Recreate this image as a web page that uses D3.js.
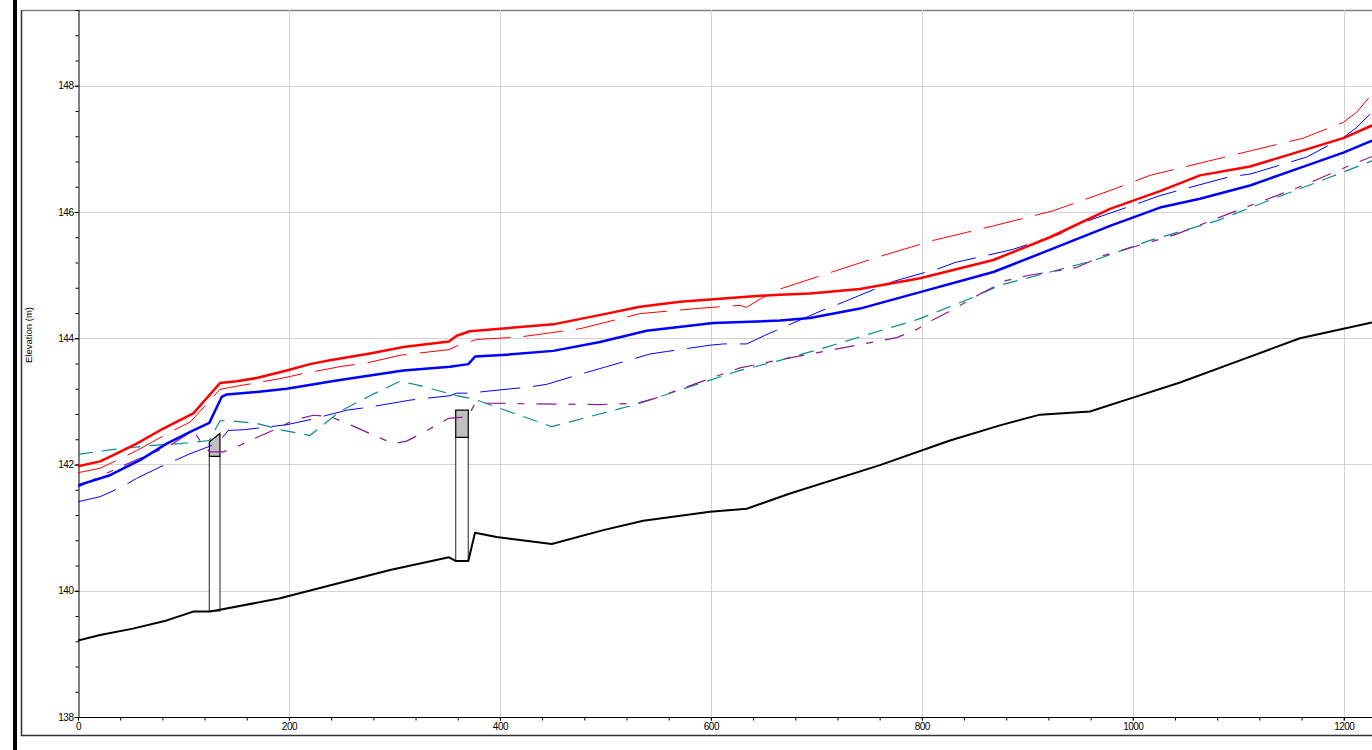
<!DOCTYPE html>
<html>
<head>
<meta charset="utf-8">
<script src="https://cdn.jsdelivr.net/npm/d3@7"></script>
<style>
  html, body { margin: 0; padding: 0; background: #fff; }
  svg { display: block; font-family: "Liberation Sans", Arial, sans-serif; }
</style>
</head>
<body>
<svg id="chart" width="1372" height="750"></svg>
<script>
// Profile data: [station (m), elevation (m)]
const ground = [
  [0, 139.21], [20.9, 139.30], [52.1, 139.40], [84.1, 139.53], [109.3, 139.67], [125.1, 139.67],
  [134.6, 139.70], [191.5, 139.88], [295.8, 140.33], [351.7, 140.53], [358.4, 140.47], [370.0, 140.47],
  [376.4, 140.92], [396.9, 140.85], [449.1, 140.74], [498.0, 140.96], [535.9, 141.11], [599.2, 141.25],
  [634.0, 141.30], [675.0, 141.54], [760.3, 141.99], [826.7, 142.38], [874.1, 142.62], [912.0, 142.79],
  [959.4, 142.84], [1000.2, 143.06], [1044.8, 143.30], [1101.7, 143.65], [1158.5, 144.00], [1226.8, 144.25]
];

const wsRed = [
  [0, 141.97], [20.9, 142.05], [33.5, 142.15], [55.6, 142.33], [80.9, 142.57], [109.3, 142.81],
  [134.6, 143.29], [150.5, 143.32], [169.4, 143.37], [197.9, 143.49], [219.9, 143.59], [238.9, 143.65],
  [276.8, 143.76], [308.4, 143.86], [351.7, 143.95], [359.0, 144.04], [371.6, 144.11], [400.1, 144.15],
  [450.6, 144.22], [501.2, 144.39], [532.8, 144.50], [570.7, 144.58], [596.0, 144.61], [643.4, 144.67],
  [665.5, 144.69], [694.0, 144.71], [741.4, 144.78], [798.3, 144.95], [867.8, 145.24], [921.5, 145.60],
  [978.4, 146.05], [1025.8, 146.33], [1063.7, 146.58], [1111.1, 146.72], [1158.5, 146.96], [1199.6, 147.17],
  [1226.8, 147.37]
];

const wsBlue = [
  [0, 141.67], [30.3, 141.83], [58.8, 142.07], [84.1, 142.33], [109.3, 142.54], [124.5, 142.66],
  [136.2, 143.07], [141.0, 143.11], [169.4, 143.15], [197.9, 143.20], [245.3, 143.33], [276.8, 143.41],
  [308.4, 143.49], [352.7, 143.55], [370.0, 143.59], [376.4, 143.71], [406.4, 143.74], [450.6, 143.80],
  [494.9, 143.94], [539.1, 144.12], [602.3, 144.24], [665.5, 144.28], [694.0, 144.32], [741.4, 144.47],
  [798.3, 144.73], [867.8, 145.05], [915.2, 145.36], [978.4, 145.78], [1025.8, 146.07], [1063.7, 146.21],
  [1111.1, 146.42], [1158.5, 146.70], [1199.6, 146.94], [1226.8, 147.13]
];

const egRed = [
  [0, 141.87], [20.9, 141.94], [39.8, 142.09], [55.6, 142.22], [90.3, 142.54], [106.2, 142.67],
  [134.6, 143.19], [150.5, 143.24], [191.5, 143.36], [213.6, 143.44], [248.4, 143.55], [276.8, 143.62],
  [305.3, 143.73], [351.7, 143.82], [362.2, 143.90], [378.0, 143.98], [419.0, 144.02], [475.9, 144.15],
  [532.8, 144.39], [592.8, 144.48], [627.6, 144.52], [633.9, 144.49], [646.6, 144.62], [665.5, 144.78],
  [700.3, 144.97], [757.2, 145.28], [810.9, 145.55], [867.8, 145.78], [924.6, 146.02], [978.4, 146.34],
  [1016.3, 146.58], [1092.2, 146.89], [1161.6, 147.17], [1199.6, 147.42], [1212.3, 147.58], [1226.8, 147.87]
];

const egBlue = [
  [0, 141.41], [20.9, 141.49], [39.8, 141.63], [55.6, 141.78], [77.7, 141.96], [106.2, 142.17],
  [125.1, 142.29], [134.6, 142.38], [142.5, 142.54], [156.7, 142.55], [197.9, 142.63], [219.9, 142.71],
  [254.7, 142.86], [276.8, 142.91], [314.8, 143.02], [352.7, 143.09], [359.0, 143.13], [371.6, 143.13],
  [387.5, 143.16], [428.5, 143.23], [444.3, 143.27], [482.3, 143.46], [501.2, 143.55], [542.2, 143.75],
  [558.1, 143.79], [599.2, 143.89], [611.8, 143.91], [633.9, 143.91], [654.4, 144.07], [665.5, 144.15],
  [708.2, 144.46], [722.4, 144.55], [773.0, 144.90], [817.2, 145.11], [831.4, 145.20], [874.1, 145.36],
  [886.7, 145.41], [930.9, 145.65], [943.5, 145.78], [981.5, 146.00], [997.3, 146.09], [1025.8, 146.26],
  [1054.2, 146.39], [1092.2, 146.56], [1111.1, 146.60], [1149.0, 146.79], [1164.8, 146.87], [1199.6, 147.18],
  [1212.3, 147.34], [1226.8, 147.58]
];

const critTeal = [
  [0, 142.16], [33.5, 142.24], [68.3, 142.30], [96.7, 142.33], [124.5, 142.38], [134.6, 142.69],
  [141.0, 142.70], [169.4, 142.65], [194.6, 142.54], [219.9, 142.46], [248.4, 142.84], [276.8, 143.09],
  [305.3, 143.32], [324.2, 143.25], [359.0, 143.09], [374.8, 143.04], [396.9, 142.91], [449.1, 142.60],
  [485.4, 142.76], [532.8, 142.97], [583.3, 143.25], [627.6, 143.49], [665.5, 143.65], [709.8, 143.86],
  [750.8, 144.07], [798.3, 144.31], [848.8, 144.65], [874.1, 144.84], [915.2, 145.02], [962.6, 145.23],
  [1016.3, 145.55], [1079.5, 145.86], [1136.4, 146.23], [1186.9, 146.55], [1226.8, 146.81]
];

const critPurple = [
  [0, 141.64], [33.5, 141.91], [60.4, 142.11], [87.2, 142.30], [109.3, 142.54], [118.8, 142.30],
  [125.1, 142.20], [137.7, 142.20], [150.5, 142.28], [171.0, 142.44], [191.5, 142.59], [204.1, 142.70],
  [223.1, 142.78], [238.9, 142.76], [259.5, 142.62], [276.8, 142.49], [298.9, 142.33], [311.6, 142.37],
  [332.1, 142.55], [351.1, 142.73], [370.0, 142.76], [376.4, 142.97], [392.2, 142.97], [434.8, 142.96],
  [494.9, 142.95], [529.7, 142.97], [545.4, 143.04], [577.1, 143.23], [605.5, 143.40], [627.6, 143.53],
  [665.5, 143.66], [697.1, 143.76], [741.4, 143.90], [776.2, 144.01], [795.2, 144.14], [809.4, 144.28],
  [826.7, 144.43], [855.1, 144.70], [878.8, 144.91], [899.4, 144.99], [946.8, 145.12], [972.0, 145.31],
  [991.0, 145.40], [1025.8, 145.57], [1041.6, 145.65], [1098.5, 146.02], [1155.4, 146.38], [1174.3, 146.51],
  [1209.0, 146.76], [1226.8, 146.88]
];

// Culverts: left/right station, invert (ground), deck bottom, deck top left/right
const culvertLeft = [124.5, 358.1];
const culvertRight = [134.6, 370.0];
const culvertInvert = [139.68, 140.47];
const culvertSoffit = [142.13, 142.43];
const deckTopLeft = [142.36, 142.86];
const deckTopRight = [142.49, 142.86];

const xMajor = [0, 200, 400, 600, 800, 1000, 1200];
const yMajor = [138, 140, 142, 144, 146, 148];

(function () {
  const svg = d3.select('#chart');
  const plotLeft = 78, plotTop = 10, plotBottom = 717, plotRight = 1372;

  const x = d3.scaleLinear().domain([0, 1250]).range([plotLeft, plotLeft + 1250 * 1.0548]);
  const y = d3.scaleLinear().domain([138, 149.2]).range([plotBottom, plotTop]);

  // outer frame
  svg.append('rect').attr('x', 13).attr('y', 0).attr('width', 4).attr('height', 750).attr('fill', '#000');
  svg.append('path').attr('d', `M${plotRight},10.5H21.5`).attr('stroke', '#808080').attr('stroke-width', 1.5).attr('fill', 'none');
  svg.append('path').attr('d', `M21.5,10V735.5H${plotRight}`).attr('stroke', '#333').attr('stroke-width', 1.5).attr('fill', 'none');

  svg.append('defs').append('clipPath').attr('id', 'plot-clip')
    .append('rect').attr('x', plotLeft).attr('y', plotTop)
    .attr('width', plotRight - plotLeft).attr('height', plotBottom - plotTop);

  // grid
  const grid = svg.append('g').attr('stroke', '#d3d3d3').attr('stroke-width', 1);
  grid.selectAll('line.gx').data(xMajor.filter(d => d > 0)).enter().append('line')
    .attr('x1', d => Math.round(x(d)) + 0.5).attr('x2', d => Math.round(x(d)) + 0.5)
    .attr('y1', plotTop).attr('y2', plotBottom);
  grid.selectAll('line.gy').data(yMajor.filter(d => d > 138)).enter().append('line')
    .attr('y1', d => Math.round(y(d)) + 0.5).attr('y2', d => Math.round(y(d)) + 0.5)
    .attr('x1', plotLeft).attr('x2', plotRight);

  // axes, minor ticks first then labelled majors
  const yMinor = d3.range(138, 149.21, 0.4);
  const xMinor = d3.range(0, 1250, 40);

  const yAxisG = svg.append('g').attr('transform', `translate(${plotLeft + 0.5},0)`);
  yAxisG.call(d3.axisLeft(y).tickValues(yMinor).tickSize(3).tickFormat(''));
  yAxisG.append('g').attr('class', 'major')
    .call(d3.axisLeft(y).tickValues(yMajor).tickSize(4).tickPadding(1).tickFormat(d3.format('d')));

  const xAxisG = svg.append('g').attr('transform', `translate(0,${plotBottom + 0.5})`);
  xAxisG.call(d3.axisBottom(x).tickValues(xMinor).tickSize(3).tickFormat(''));
  xAxisG.append('g').attr('class', 'major')
    .call(d3.axisBottom(x).tickValues(xMajor).tickSize(3).tickPadding(2).tickFormat(d3.format('d')));
  xAxisG.select('.domain').attr('d', `M${plotLeft},0H${plotRight}`);

  svg.selectAll('g.major .domain').remove();
  svg.selectAll('.tick line, .domain').attr('stroke', '#000');
  svg.selectAll('.tick text').attr('font-size', 10).attr('fill', '#000')
    .attr('font-family', '"Liberation Sans", Arial, sans-serif').attr('letter-spacing', '-0.5px');

  svg.append('text')
    .attr('transform', 'translate(32,335) rotate(-90)')
    .attr('text-anchor', 'middle')
    .attr('font-size', 9.5)
    .text('Elevation (m)');

  const plot = svg.append('g').attr('clip-path', 'url(#plot-clip)');

  // culvert openings and decks
  culvertLeft.forEach((xl, i) => {
    const xr = culvertRight[i];
    plot.append('rect')
      .attr('x', x(xl)).attr('width', x(xr) - x(xl))
      .attr('y', y(culvertSoffit[i])).attr('height', y(culvertInvert[i]) - y(culvertSoffit[i]))
      .attr('fill', '#fff').attr('stroke', '#444').attr('stroke-width', 1.2);
    plot.append('path')
      .attr('d', d3.line()([
        [x(xl), y(culvertSoffit[i])], [x(xl), y(deckTopLeft[i])],
        [x(xr), y(deckTopRight[i])], [x(xr), y(culvertSoffit[i])]
      ]) + 'Z')
      .attr('fill', '#c0c0c0').attr('stroke', '#000').attr('stroke-width', 1.2);
  });

  const line = d3.line().x(d => x(d[0])).y(d => y(d[1]));

  const series = [
    { data: critTeal, color: '#0a8c8c', width: 1.2, dash: '15,9' },
    { data: critPurple, color: '#8c1a96', width: 1.2, dash: '20,12,7,12' },
    { data: egBlue, color: '#0000ff', width: 1, dash: '40,13' },
    { data: egRed, color: '#ff0000', width: 1, dash: '40,13' },
    { data: wsBlue, color: '#0000ff', width: 2.5, dash: null },
    { data: wsRed, color: '#ff0000', width: 2.5, dash: null },
    { data: ground, color: '#000000', width: 2, dash: null }
  ];

  plot.selectAll('path.series').data(series).enter().append('path')
    .attr('class', 'series')
    .attr('d', d => line(d.data))
    .attr('fill', 'none')
    .attr('stroke', d => d.color)
    .attr('stroke-width', d => d.width)
    .attr('stroke-dasharray', d => d.dash)
    .attr('stroke-linejoin', 'round');
})();
</script>
</body>
</html>
